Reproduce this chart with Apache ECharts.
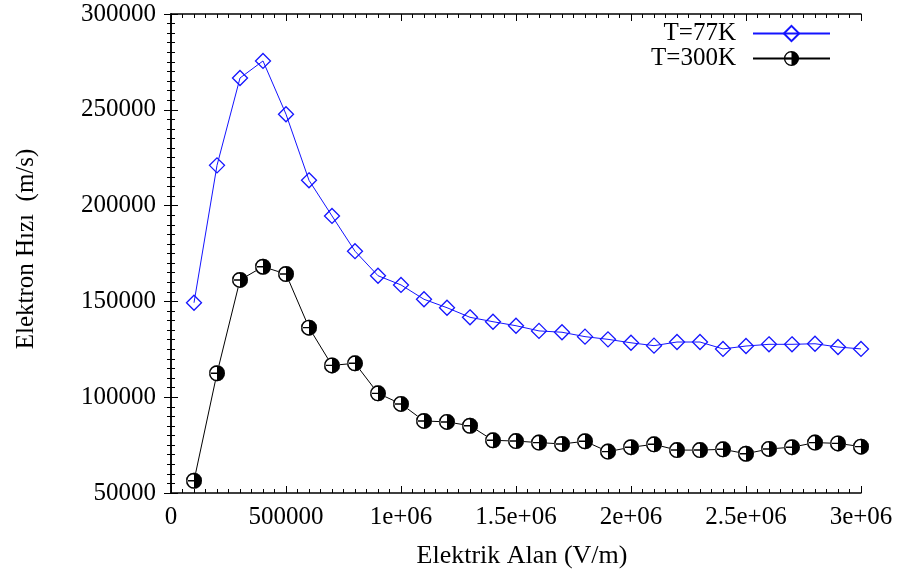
<!DOCTYPE html>
<html>
<head>
<meta charset="utf-8">
<script src="https://cdn.jsdelivr.net/npm/echarts@6/dist/echarts.min.js"></script>
<style>
  html, body { margin: 0; padding: 0; background: #fff; }
  #chart { width: 899px; height: 570px; }
</style>
</head>
<body>
<div id="chart"></div>
<script>
// Electric field values (V/m)
const fieldValues = [
  100000, 200000, 300000, 400000, 500000, 600000, 700000, 800000, 900000, 1000000,
  1100000, 1200000, 1300000, 1400000, 1500000, 1600000, 1700000, 1800000, 1900000, 2000000,
  2100000, 2200000, 2300000, 2400000, 2500000, 2600000, 2700000, 2800000, 2900000, 3000000
];

// Electron drift velocity at 77 K (m/s)
const velocity77K = [
  149300, 221000, 266600, 275500, 247700, 213200, 194600, 176200, 163400, 158600,
  151100, 146700, 141700, 139400, 137300, 134600, 133900, 131600, 130200, 128400,
  126900, 128800, 128800, 125200, 126700, 127600, 127600, 127900, 126200, 125200
];

// Electron drift velocity at 300 K (m/s)
const velocity300K = [
  56400, 112500, 161200, 168100, 164300, 136300, 116600, 117700, 102000, 96500,
  87600, 87100, 85100, 77500, 77100, 76300, 75600, 77000, 71600, 73900,
  75400, 72400, 72400, 72800, 70500, 73000, 73900, 76300, 75900, 74200
];

const seriesNames = ['T=77K', 'T=300K'];
const xTickLabels = ['0', '500000', '1e+06', '1.5e+06', '2e+06', '2.5e+06', '3e+06'];
const yTickLabels = ['50000', '100000', '150000', '200000', '250000', '300000'];
const xAxisTitle = 'Elektrik Alan (V/m)';
const yAxisTitle = 'Elektron Hızı  (m/s)';

const pairs = (ys) => fieldValues.map((x, i) => [x, ys[i]]);

const FONT = 'Liberation Serif';
const BLUE = '#1414ff';

// Half-filled circle: right half solid, left half outlined, with a bar to the centre
const halfCircle = 'path://M50,0 A50,50 0 0,1 50,100 Z ' +
  'M50,0 A50,50 0 0,0 50,100 L50,91 A41,41 0 0,1 50,9 Z ' +
  'M5,45.5 L50,45.5 L50,54.5 L5,54.5 Z';

const frameAxis = {
  axisLine: { show: true, lineStyle: { color: '#000', width: 1.5 } },
  axisTick: { show: true, inside: true, length: 7, lineStyle: { color: '#000', width: 1 } },
  minorTick: { show: true, splitNumber: 10, length: 4, lineStyle: { color: '#000', width: 1 } },
  splitLine: { show: false }
};

const xBase = Object.assign({ type: 'value', min: 0, max: 3000000, interval: 500000 }, frameAxis);
const yBase = Object.assign({ type: 'value', min: 50000, max: 300000, interval: 50000 }, frameAxis);

const chart = echarts.init(document.getElementById('chart'), null, { renderer: 'canvas' });

chart.setOption({
  animation: false,
  backgroundColor: '#fff',
  textStyle: { fontFamily: FONT },
  grid: { left: 171, right: 38, top: 14, bottom: 77, containLabel: false, outerBoundsMode: 'none' },
  xAxis: [
    Object.assign({}, xBase, {
      position: 'bottom',
      name: xAxisTitle,
      nameLocation: 'middle',
      nameGap: 50,
      nameTextStyle: { fontFamily: FONT, fontSize: 26, color: '#000', padding: [0, 0, 0, 12] },
      axisLabel: {
        margin: 12, fontFamily: FONT, fontSize: 25, color: '#000',
        formatter: (v) => xTickLabels[Math.round(v / 500000)]
      }
    }),
    Object.assign({}, xBase, { position: 'top', axisLabel: { show: false } })
  ],
  yAxis: [
    Object.assign({}, yBase, {
      position: 'left',
      name: yAxisTitle,
      nameLocation: 'middle',
      nameGap: 132,
      nameTextStyle: { fontFamily: FONT, fontSize: 25, color: '#000', padding: [0, 0, 0, 9] },
      axisLabel: {
        margin: 15, fontFamily: FONT, fontSize: 25, color: '#000',
        formatter: (v) => yTickLabels[Math.round((v - 50000) / 50000)]
      }
    }),
    Object.assign({}, yBase, { position: 'right', axisLabel: { show: false } })
  ],
  legend: [
    {
      data: [seriesNames[0]],
      right: 68, top: 21, padding: 0,
      align: 'right', itemWidth: 77, itemHeight: 19,
      textStyle: { fontFamily: FONT, fontSize: 25, color: '#000', padding: [0, 12, 0, 0] },
      selectedMode: false
    },
    {
      data: [seriesNames[1]],
      right: 68, top: 46, padding: 0,
      align: 'right', itemWidth: 77, itemHeight: 19,
      textStyle: { fontFamily: FONT, fontSize: 25, color: '#000', padding: [0, 12, 0, 0] },
      selectedMode: false
    }
  ],
  series: [
    {
      name: seriesNames[0],
      type: 'line',
      data: pairs(velocity77K),
      symbol: 'diamond',
      symbolSize: 15,
      lineStyle: { color: BLUE, width: 1 },
      itemStyle: { color: 'rgba(0,0,0,0)', borderColor: BLUE, borderWidth: 1.3 },
      z: 3
    },
    {
      name: seriesNames[1],
      type: 'line',
      data: pairs(velocity300K),
      symbol: halfCircle,
      symbolSize: 16,
      lineStyle: { color: '#000', width: 1 },
      itemStyle: { color: '#000' },
      z: 4
    },
    {
      // white backing so the connecting line does not show through the open half
      name: 'bg300',
      type: 'scatter',
      data: pairs(velocity300K),
      symbol: 'circle',
      symbolSize: 16,
      itemStyle: { color: '#fff', opacity: 1 },
      silent: true,
      z: 5
    },
    {
      name: 'mark300',
      type: 'scatter',
      data: pairs(velocity300K),
      symbol: halfCircle,
      symbolSize: 16,
      itemStyle: { color: '#000', opacity: 1 },
      silent: true,
      z: 6
    }
  ]
});
</script>
</body>
</html>
